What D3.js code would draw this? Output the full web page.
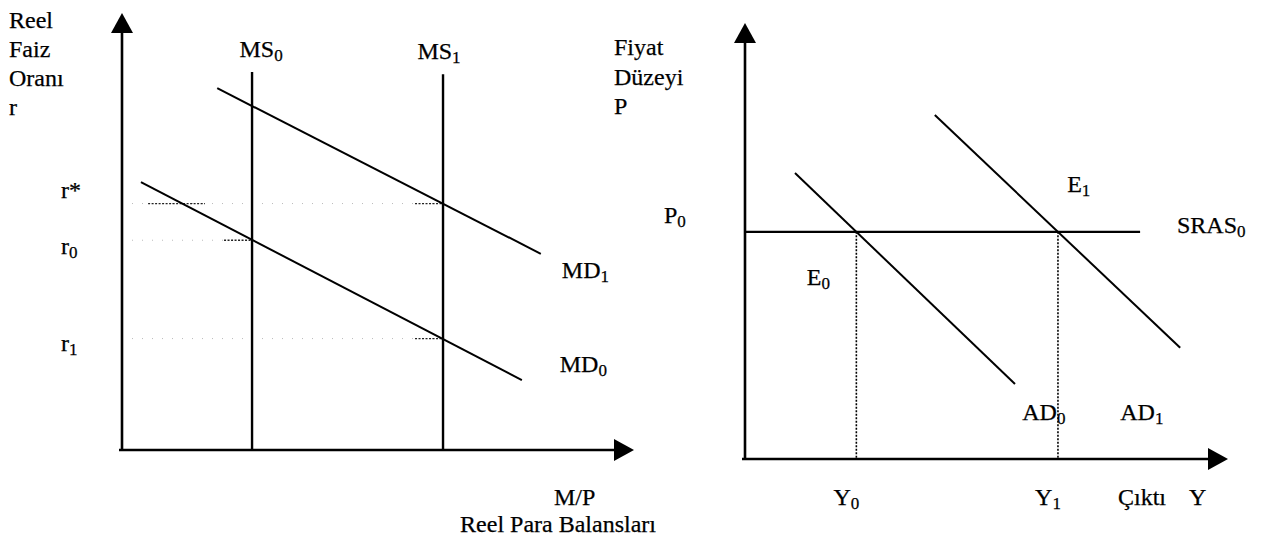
<!DOCTYPE html>
<meta charset="utf-8">
<style>

body {
  margin: 0;
  background: #fff;
}

text {
  font-family: "Liberation Serif", "Times New Roman", serif;
  font-size: 24px;
  fill: #000;
  stroke: #000;
  stroke-width: 0.25px;
}

.curve {
  fill: none;
  stroke: #000;
  stroke-width: 2px;
}

.axis-line {
  stroke: #000;
  stroke-width: 2.6px;
}

</style>
<body>
<script src="https://cdnjs.cloudflare.com/ajax/libs/d3/7.8.5/d3.min.js"></script>
<script>

// ---- left panel: money market (values in arbitrary units 0..100) ----
var msNames = ["MS0", "MS1"],
    msValues = [25.4, 62.7],
    msTop = [86.5, 86];

var mdNames = ["MD1", "MD0"],
    mdStart = [[18.6, 82.8], [3.7, 61.3]],
    mdEnd = [[81.8, 44.9], [78.1, 16.0]];

var rLabels = ["r*", "r0", "r1"],
    rLevels = [56.4, 48.0, 25.5],
    rAt = [62.7, 25.4, 62.7];   // M/P where each rate is reached

// ---- right panel: AD / SRAS ----
var adNames = ["AD0", "AD1"],
    adStart = [[10.35, 65.6], [39.3, 78.9]],
    adEnd = [[55.9, 17.2], [90.1, 25.5]];

var srasName = "SRAS0",
    srasLevel = 52.1,
    srasEnd = 81.8;

var yLabels = ["Y0", "Y1"];

var w = 1272,
    h = 548;

var svg = d3.select("body").append("svg")
    .attr("width", w)
    .attr("height", h);

var xL = d3.scaleLinear().domain([0, 100]).range([122, 634]),
    yL = d3.scaleLinear().domain([0, 100]).range([450, 13]);

var xR = d3.scaleLinear().domain([0, 100]).range([745, 1228]),
    yR = d3.scaleLinear().domain([0, 100]).range([459, 23]);

// text with a subscript digit, e.g. "MS0" -> MS<sub>0</sub>
function label(g, str, x, y, anchor) {
  var m = str.match(/^(.*?)(\d)$/);
  var t = g.append("text")
      .attr("x", x)
      .attr("y", y)
      .attr("text-anchor", anchor || "start");
  if (m) {
    t.append("tspan").text(m[1]);
    t.append("tspan").attr("dy", 4).style("font-size", "17px").text(m[2]);
  } else {
    t.text(str);
  }
  return t;
}

function xAtLevel(s, e, y) {
  return s[0] + (y - s[1]) * (e[0] - s[0]) / (e[1] - s[1]);
}

function axes(g, x, y) {
  g.append("line").attr("class", "axis-line")
      .attr("x1", x(0)).attr("y1", y(0))
      .attr("x2", x(0)).attr("y2", y(100) + 16);
  g.append("line").attr("class", "axis-line")
      .attr("x1", x(0) - 3).attr("y1", y(0))
      .attr("x2", x(100) - 16).attr("y2", y(0));
  g.append("path")
      .attr("d", "M" + x(0) + "," + y(100) + "l-11,20h22z");
  g.append("path")
      .attr("d", "M" + x(100) + "," + y(0) + "l-20,-11v22z");
}

// ---------------- left panel ----------------
var left = svg.append("g");

// dotted guides for interest rates
var guides = left.selectAll(".guide")
    .data(rLevels)
  .enter().append("g");

guides.append("line")
    .attr("x1", xL(0))
    .attr("x2", function(d, i) { return xL(rAt[i]); })
    .attr("y1", function(d) { return yL(d); })
    .attr("y2", function(d) { return yL(d); })
    .style("stroke", "#bbb")
    .style("stroke-width", 1)
    .style("stroke-dasharray", "1,9");

guides.append("line")
    .attr("x1", function(d, i) { return xL(rAt[i]) - 28; })
    .attr("x2", function(d, i) { return xL(rAt[i]); })
    .attr("y1", function(d) { return yL(d); })
    .attr("y2", function(d) { return yL(d); })
    .style("stroke", "#222")
    .style("stroke-width", 1.3)
    .style("stroke-dasharray", "2,1.5");

// r* guide has a second visible dotted stretch near the MD0 line
left.append("line")
    .attr("x1", xL(5.1)).attr("x2", xL(16.2))
    .attr("y1", yL(rLevels[0])).attr("y2", yL(rLevels[0]))
    .style("stroke", "#222")
    .style("stroke-width", 1.3)
    .style("stroke-dasharray", "2,1.5");

axes(left, xL, yL);

left.selectAll(".ms")
    .data(msValues)
  .enter().append("line")
    .attr("class", "ms")
    .attr("x1", function(d) { return xL(d); })
    .attr("x2", function(d) { return xL(d); })
    .attr("y1", function(d, i) { return yL(msTop[i]); })
    .attr("y2", yL(0))
    .style("stroke", "#000")
    .style("stroke-width", 2.4);

left.selectAll(".md")
    .data(mdNames)
  .enter().append("line")
    .attr("class", "curve")
    .attr("x1", function(d, i) { return xL(mdStart[i][0]); })
    .attr("y1", function(d, i) { return yL(mdStart[i][1]); })
    .attr("x2", function(d, i) { return xL(mdEnd[i][0]); })
    .attr("y2", function(d, i) { return yL(mdEnd[i][1]); });

msNames.forEach(function(n, i) {
  label(left, n, xL(msValues[i]) - (i ? 4 : -9), yL(msTop[i]) - 15, "middle");
});

label(left, mdNames[0], xL(85.9), yL(39.4));
label(left, mdNames[1], xL(85.5), yL(17.8));

var rOffsets = [-6, 14, 12];
rLabels.forEach(function(n, i) {
  label(left, n, 61, yL(rLevels[i]) + rOffsets[i]);
});

["Reel", "Faiz", "Oranı", "r"].forEach(function(s, i) {
  left.append("text").attr("x", 9).attr("y", 28 + i * 29).text(s);
});

left.append("text").attr("x", 554).attr("y", 505).text("M/P");
left.append("text").attr("x", 656).attr("y", 532)
    .attr("text-anchor", "end").text("Reel Para Balansları");

// ---------------- right panel ----------------
var right = svg.append("g");

var yStars = adNames.map(function(d, i) {
  return xAtLevel(adStart[i], adEnd[i], srasLevel);
});

right.selectAll(".yguide")
    .data(yStars)
  .enter().append("line")
    .attr("x1", function(d) { return xR(d); })
    .attr("x2", function(d) { return xR(d); })
    .attr("y1", yR(srasLevel))
    .attr("y2", yR(0))
    .style("stroke", "#000")
    .style("stroke-width", 1.6)
    .style("stroke-dasharray", "2,1.5");

axes(right, xR, yR);

right.append("line")
    .attr("class", "curve")
    .attr("x1", xR(0)).attr("y1", yR(srasLevel))
    .attr("x2", xR(srasEnd)).attr("y2", yR(srasLevel))
    .style("stroke-width", 2.2);

right.selectAll(".ad")
    .data(adNames)
  .enter().append("line")
    .attr("class", "curve")
    .attr("x1", function(d, i) { return xR(adStart[i][0]); })
    .attr("y1", function(d, i) { return yR(adStart[i][1]); })
    .attr("x2", function(d, i) { return xR(adEnd[i][0]); })
    .attr("y2", function(d, i) { return yR(adEnd[i][1]); });

["Fiyat", "Düzeyi", "P"].forEach(function(s, i) {
  right.append("text").attr("x", 614).attr("y", 55 + i * 29.5).text(s);
});

label(right, "P0", 664, yR(srasLevel) - 9);
label(right, srasName, 1177, yR(srasLevel) + 1);
label(right, "E1", xR(66.7), yR(61.2));
label(right, "E0", xR(12.8), yR(39.9));
label(right, adNames[0], xR(57.4), yR(9));
label(right, adNames[1], xR(77.7), yR(9));

yLabels.forEach(function(n, i) {
  label(right, n, xR(yStars[i]) - 10, 505, "middle");
});
right.append("text").attr("x", 1118).attr("y", 505).text("Çıktı");
right.append("text").attr("x", 1189).attr("y", 505).text("Y");

</script>
</body>
